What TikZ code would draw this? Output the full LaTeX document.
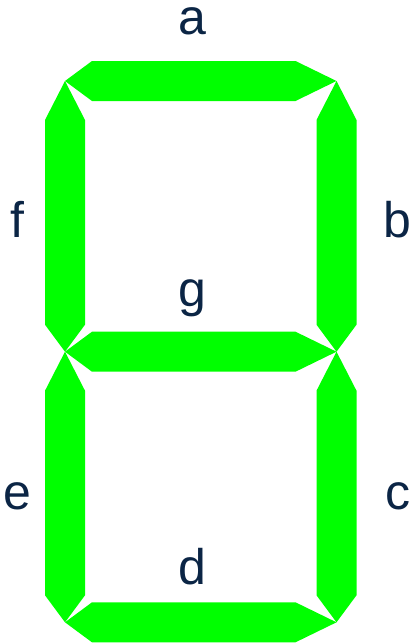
\documentclass[tikz,border=0pt]{standalone}
\usepackage{fontspec}
\setmainfont{Liberation Sans}
\usepackage{tikz}
\definecolor{SegGreen}{HTML}{00FF00}
\definecolor{Ink}{HTML}{0B2545}
% horizontal segment on row #1, vertical segment in column #1 from row #2 to row #3
\newcommand{\hseg}[1]{\fill[seg] (65,#1) -- (92,#1-20) -- (295.5,#1-20) -- (336.5,#1) -- (295.5,#1+20) -- (92,#1+20) -- cycle;}
\newcommand{\vseg}[3]{\fill[seg] (#1,#2) -- (#1+20,#2+39) -- (#1+20,#3-27) -- (#1,#3) -- (#1-20,#3-27) -- (#1-20,#2+39) -- cycle;}

\begin{document}
\begin{tikzpicture}[x=1pt,y=-1pt,
    seg/.style={fill=SegGreen,draw=none},
    lbl/.style={text=Ink,font=\fontsize{50}{60}\selectfont,inner sep=0pt,anchor=base}]
  \useasboundingbox (0,0) rectangle (413,643);

  % segments
  \hseg{81}      % a
  \hseg{351.7}   % g
  \hseg{622.3}   % d
  \vseg{65}{81}{351.7}       % f
  \vseg{336.5}{81}{351.7}    % b
  \vseg{65}{351.7}{622.3}    % e
  \vseg{336.5}{351.7}{622.3} % c

  % labels
  \node[lbl,text height=27pt] (lbla) at (192.3,34) {a};
  \node[lbl] (lblf) at (17,237.7) {f};
  \node[lbl] (lblb) at (397.5,237.7) {b};
  \node[lbl] (lblg) at (192.3,306.7) {g};
  \node[lbl] (lble) at (17,509.5) {e};
  \node[lbl] (lblc) at (397.5,509.5) {c};
  \node[lbl] (lbld) at (192.3,584) {d};
\end{tikzpicture}
\end{document}
